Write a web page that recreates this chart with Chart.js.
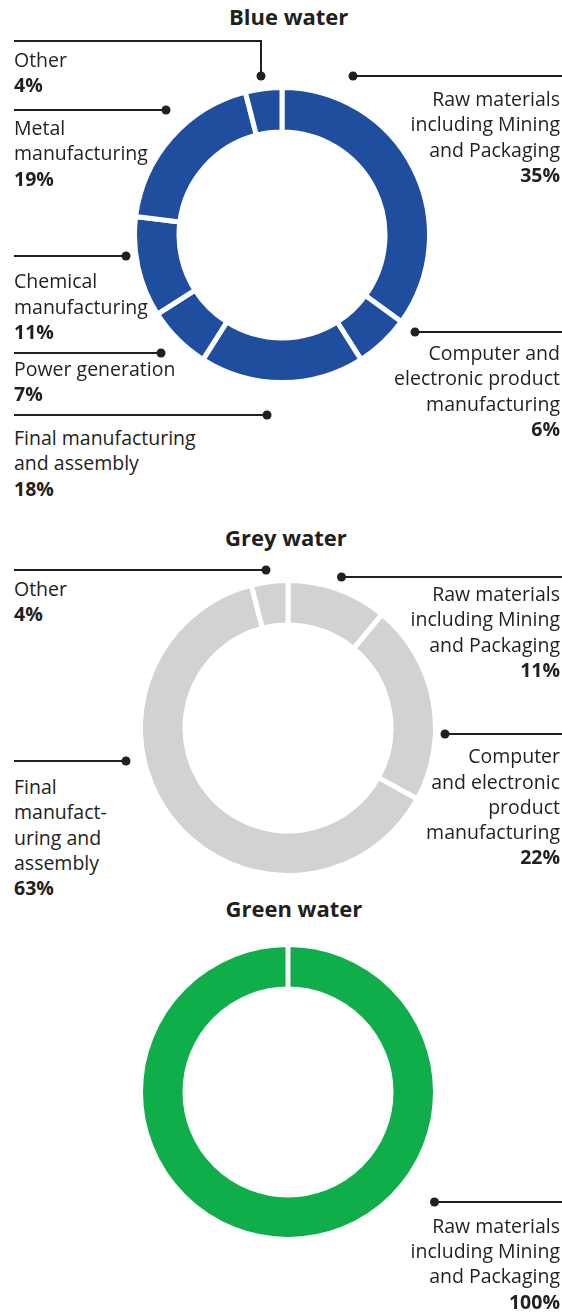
<!DOCTYPE html>
<html><head><meta charset="utf-8">
<script src="https://cdn.jsdelivr.net/npm/chart.js@4.4.1/dist/chart.umd.min.js"></script>
<style>
html,body{margin:0;padding:0;background:#fff;}
#page{position:relative;width:562px;height:1312px;overflow:hidden;font-family:"Open Sans",sans-serif;color:#231f20;}
.title{position:absolute;font-weight:700;font-size:22px;line-height:30px;white-space:nowrap;}
.lbl{position:absolute;font-size:19.5px;line-height:25.3px;white-space:nowrap;}
.lbl b{font-weight:700;}
canvas.donut{position:absolute;}
#leaders{position:absolute;left:0;top:0;}
</style></head>
<body><div id="page"><svg id="leaders" width="562" height="1312" xmlns="http://www.w3.org/2000/svg"></svg></div>
<script>
// ---------------- DATA ----------------
const blueTitle = "Blue water";
const blueCategories = ["Raw materials\nincluding Mining\nand Packaging", "Computer and\nelectronic product\nmanufacturing", "Final manufacturing\nand assembly", "Power generation", "Chemical\nmanufacturing", "Metal\nmanufacturing", "Other"];
const blueValues = [35, 6, 18, 7, 11, 19, 4];

const greyTitle = "Grey water";
const greyCategories = ["Raw materials\nincluding Mining\nand Packaging", "Computer\nand electronic\nproduct\nmanufacturing", "Final\nmanufact-\nuring and\nassembly", "Other"];
const greyValues = [11, 22, 63, 4];

const greenTitle = "Green water";
const greenCategories = ["Raw materials\nincluding Mining\nand Packaging"];
const greenValues = [100];

// ---------------- LAYOUT ----------------
const INK = "#231f20";
const charts = [
  { title: blueTitle, cats: blueCategories, vals: blueValues, color: "#1f4e9f",
    cx: 281.5, cy: 235, titleX: 288.5, titleBase: 25,
    notes: [
      { align: "right", x: 560, base: 106, leader: [[562,76],[353,76]] },
      { align: "right", x: 560, base: 360, leader: [[562,332],[415,332]] },
      { align: "left", x: 14, base: 445, leader: [[14,415],[267,415]] },
      { align: "left", x: 14, base: 376, leader: [[14,353],[161,353]] },
      { align: "left", x: 14, base: 288.3, leader: [[14,256],[126,256]] },
      { align: "left", x: 14, base: 135, leader: [[14,110],[166,110]] },
      { align: "left", x: 14, base: 66.7, leader: [[14,41],[261,41],[261,76]] }
    ] },
  { title: greyTitle, cats: greyCategories, vals: greyValues, color: "#d1d2d4",
    cx: 288, cy: 728, titleX: 286, titleBase: 546,
    notes: [
      { align: "right", x: 560, base: 601, leader: [[562,577],[341.5,577]] },
      { align: "right", x: 560, base: 763.3, leader: [[562,734],[445,734]] },
      { align: "left", x: 14, base: 794, leader: [[14,761],[126,761]] },
      { align: "left", x: 14, base: 596, leader: [[14,570],[266,570]] }
    ] },
  { title: greenTitle, cats: greenCategories, vals: greenValues, color: "#0fae4b",
    cx: 288, cy: 1092, titleX: 294, titleBase: 917.3,
    notes: [
      { align: "right", x: 560, base: 1232.7, leader: [[562,1202],[434.5,1202]] }
    ] }
];

const BORDER = 5;          // white gap between slices
const R_VISIBLE = 145;     // visible outer radius
const R_INNER_VISIBLE = 105.5;
const SIZE = 2 * (R_VISIBLE + BORDER);
const outerPath = (SIZE - BORDER) / 2;
const cutoutPct = ((R_INNER_VISIBLE - BORDER / 2) / outerPath * 100).toFixed(2) + "%";

const page = document.getElementById("page");
const svg = document.getElementById("leaders");
const NS = "http://www.w3.org/2000/svg";

function baselineOffset(cls) {
  const d = document.createElement("div");
  d.className = cls;
  d.style.left = "0px"; d.style.top = "0px"; d.style.visibility = "hidden";
  d.innerHTML = 'Hg<span style="display:inline-block;width:0;height:0;vertical-align:baseline"></span>';
  page.appendChild(d);
  const off = d.querySelector("span").offsetTop;
  page.removeChild(d);
  return off;
}

function build() {
  const lblOff = baselineOffset("lbl");
  const titleOff = baselineOffset("title");

  charts.forEach(c => {
    // title
    const t = document.createElement("div");
    t.className = "title";
    t.textContent = c.title;
    page.appendChild(t);
    t.style.top = (c.titleBase - titleOff) + "px";
    t.style.left = (c.titleX - t.offsetWidth / 2) + "px";

    // donut
    const cv = document.createElement("canvas");
    cv.className = "donut";
    cv.width = SIZE; cv.height = SIZE;
    cv.style.width = SIZE + "px"; cv.style.height = SIZE + "px";
    cv.style.left = (c.cx - SIZE / 2) + "px";
    cv.style.top = (c.cy - SIZE / 2) + "px";
    page.appendChild(cv);
    new Chart(cv.getContext("2d"), {
      type: "doughnut",
      data: {
        labels: c.cats.map(s => s.replace(/\n/g, " ")),
        datasets: [{
          data: c.vals,
          backgroundColor: c.color,
          hoverBackgroundColor: c.color,
          borderColor: "#ffffff",
          hoverBorderColor: "#ffffff",
          borderWidth: BORDER,
          hoverBorderWidth: BORDER,
          borderAlign: "center"
        }]
      },
      options: {
        responsive: false,
        animation: false,
        devicePixelRatio: 1,
        cutout: cutoutPct,
        layout: { padding: 0 },
        events: [],
        plugins: { legend: { display: false }, tooltip: { enabled: false }, title: { display: false } }
      }
    });

    // labels and leaders
    c.notes.forEach((n, i) => {
      const d = document.createElement("div");
      d.className = "lbl";
      const lines = c.cats[i].split("\n");
      d.innerHTML = lines.map(l => l.replace(/&/g, "&amp;")).join("<br>") + "<br><b>" + c.vals[i] + "%</b>";
      d.style.textAlign = n.align;
      d.style.top = (n.base - lblOff) + "px";
      if (n.align === "right") d.style.right = (562 - n.x) + "px";
      else d.style.left = n.x + "px";
      page.appendChild(d);

      const pl = document.createElementNS(NS, "polyline");
      pl.setAttribute("points", n.leader.map(p => p.join(",")).join(" "));
      pl.setAttribute("fill", "none");
      pl.setAttribute("stroke", INK);
      pl.setAttribute("stroke-width", "2");
      svg.appendChild(pl);
      const last = n.leader[n.leader.length - 1];
      const dot = document.createElementNS(NS, "circle");
      dot.setAttribute("cx", last[0]); dot.setAttribute("cy", last[1]);
      dot.setAttribute("r", "4.5"); dot.setAttribute("fill", INK);
      svg.appendChild(dot);
    });
  });
}
if (document.fonts && document.fonts.ready) document.fonts.ready.then(build); else build();
</script>
</body></html>
